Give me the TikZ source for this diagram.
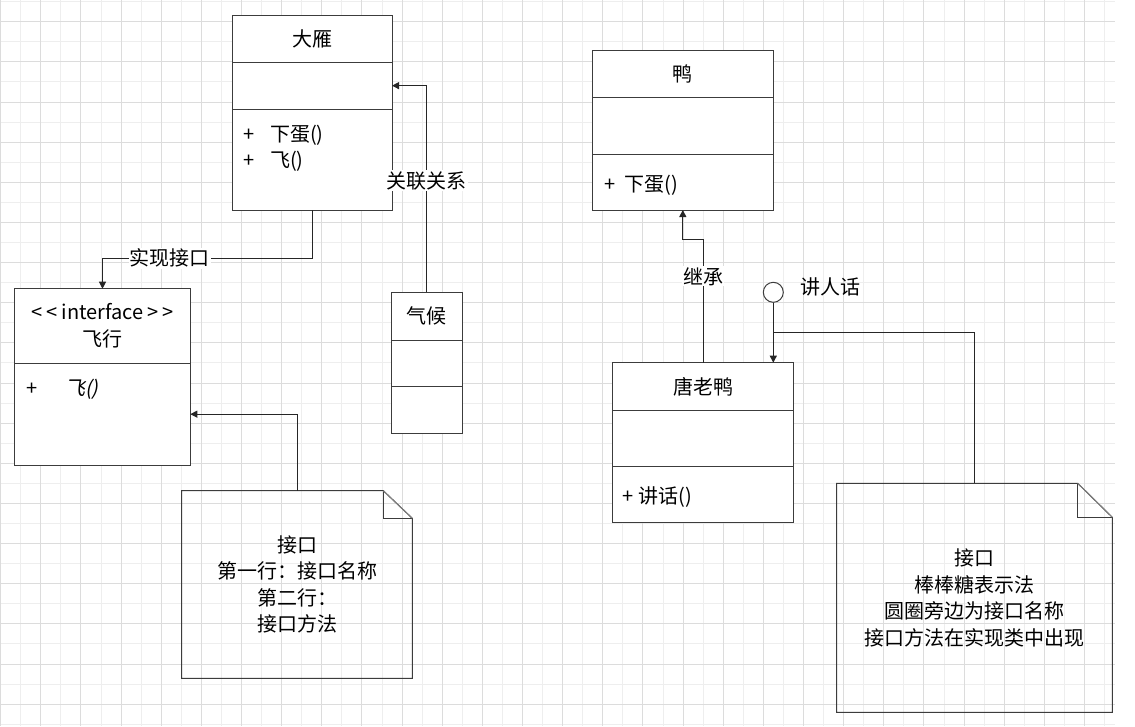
\documentclass[tikz,border=0pt]{standalone}
\usepackage{fontspec}
\setmainfont{Noto Sans CJK SC}
\newfontfamily\slantcjk[FakeSlant=0.2]{Noto Sans CJK SC}
\usetikzlibrary{arrows.meta,calc,positioning}
\definecolor{gridminor}{HTML}{EEEEEE}
\definecolor{gridmajor}{HTML}{DCDCDC}
\definecolor{boxline}{HTML}{3C3C3C}
\newcommand{\opline}[2]{\makebox[#1pt][l]{+}#2}

\begin{document}
\begin{tikzpicture}[x=1pt,y=-1pt,
		font=\fontsize{20}{26.6}\selectfont,
		umlpart/.style={draw=boxline,line width=1pt,fill=white,inner sep=0pt,outer sep=0pt,minimum width=#1},
		member/.style={anchor=west,inner sep=0pt},
		notebox/.style={inner sep=0pt,outer sep=0pt,align=center},
		notedraw/.style={draw=boxline,line width=1pt},
		conn/.style={draw=black!85,line width=1pt,-{Triangle[length=7pt,width=7pt]}},
		plainline/.style={draw=black!85,line width=1pt},
		edgelabel/.style={fill=white,inner sep=1pt}
		]
		\useasboundingbox (0,0) rectangle (1135,726);
		\fill[white] (0,0) rectangle (1135,726);
		% grid
		\foreach \k in {1,3,...,55} \draw[gridminor,line width=1pt] ({0.7+20.07*\k},0) -- ({0.7+20.07*\k},726);
		\foreach \k in {0,2,...,36} \draw[gridminor,line width=1pt] (0,{1.7+20.07*\k}) -- (1115,{1.7+20.07*\k});
		\foreach \k in {0,2,...,54} \draw[gridmajor,line width=1pt] ({0.7+20.07*\k},0) -- ({0.7+20.07*\k},726);
		\foreach \k in {1,3,...,35} \draw[gridmajor,line width=1pt] (0,{1.7+20.07*\k}) -- (1115,{1.7+20.07*\k});

		% classes
		\node[umlpart=160,minimum height=47.3,anchor=north west] (dy-head) at (232,15) {大雁};
		\node[umlpart=160,minimum height=46.7,below=0pt of dy-head] (dy-attr) {};
		\node[umlpart=160,minimum height=101,below=0pt of dy-attr] (dy-ops) {};
		\node[member] (dy-op1) at (243,135) {\opline{27}{下蛋()}};
		\node[member] (dy-op2) at (243,161.7) {\opline{27}{飞()}};

		\node[umlpart=175.6,minimum height=74.6,anchor=north west,align=center] (fx-head) at (14.7,288.7) {<\kern4pt<\kern4pt interface\kern4pt>\kern4pt>\\飞行};
		\node[umlpart=175.6,minimum height=101.7,below=0pt of fx-head] (fx-ops) {};
		\node[member] (fx-op1) at (26.7,389) {\opline{38.3}{\slantcjk 飞()}};

		\node[umlpart=70.3,minimum height=47.7,anchor=north west] (qh-head) at (391.7,292.3) {气候};
		\node[umlpart=70.3,minimum height=46.7,below=0pt of qh-head] (qh-attr) {};
		\node[umlpart=70.3,minimum height=46.6,below=0pt of qh-attr] (qh-ops) {};

		\node[umlpart=181,minimum height=47.7,anchor=north west] (ya-head) at (592.3,50) {鸭};
		\node[umlpart=181,minimum height=56.3,below=0pt of ya-head] (ya-attr) {};
		\node[umlpart=181,minimum height=56,below=0pt of ya-attr] (ya-ops) {};
		\node[member] (ya-op1) at (604,185) {\opline{20.3}{下蛋()}};

		\node[umlpart=181.4,minimum height=48,anchor=north west] (tly-head) at (612.3,362.7) {唐老鸭};
		\node[umlpart=181.4,minimum height=56,below=0pt of tly-head] (tly-attr) {};
		\node[umlpart=181.4,minimum height=56,below=0pt of tly-attr] (tly-ops) {};
		\node[member] (tly-op1) at (622,496.7) {\opline{16.3}{讲话()}};

		\node[circle,draw=boxline,line width=1pt,fill=white,minimum size=20,inner sep=0pt] (jhr) at (773.3,292.3) {};
		\node (jhr-label) at (830,286.7) {讲人话};

		% notes
		\node[notebox,minimum width=230.6,minimum height=187.6] (note-a) at (297,584.5) {接口\\第一行：接口名称\\第二行：\\接口方法};
		\draw[notedraw] (note-a.north west) -- ([xshift=-29pt]note-a.north east) -- ([yshift=-27.6pt]note-a.north east) -- (note-a.south east) -- (note-a.south west) -- cycle;
		\draw[notedraw] ([xshift=-29pt]note-a.north east) |- ([yshift=-27.6pt]note-a.north east);
		\draw[gray,line width=1pt] ([xshift=-29pt]note-a.north east) -- ([yshift=-27.6pt]note-a.north east);

		\node[notebox,minimum width=275.6,minimum height=229] (note-b) at (974.5,597.8) {接口\\棒棒糖表示法\\圆圈旁边为接口名称\\接口方法在实现类中出现};
		\draw[notedraw] (note-b.north west) -- ([xshift=-34.6pt]note-b.north east) -- ([yshift=-34pt]note-b.north east) -- (note-b.south east) -- (note-b.south west) -- cycle;
		\draw[notedraw] ([xshift=-34.6pt]note-b.north east) |- ([yshift=-34pt]note-b.north east);
		\draw[gray,line width=1pt] ([xshift=-34.6pt]note-b.north east) -- ([yshift=-34pt]note-b.north east);

		% connectors
		\draw[conn] (qh-head.north) |- node[edgelabel,pos=0.27] {关联关系} (dy-attr.east);
		\draw[conn] (dy-ops.south) -- ++(0,48.3) -| node[edgelabel,pos=0.34] {实现接口} (fx-head.north);
		\draw[conn] (note-a.north) |- (fx-ops.east);
		\draw[conn] (tly-head.north) -- node[edgelabel,pos=0.7] {继承} ++(0,-123.4) -| (ya-ops.south);
		\draw[conn] (jhr.south) -- (jhr.south |- tly-head.north);
		\coordinate (jhr-join) at ($(jhr.south)!0.5!(jhr.south |- tly-head.north)$);
		\draw[plainline] (note-b.north) |- (jhr-join);
\end{tikzpicture}
\end{document}
